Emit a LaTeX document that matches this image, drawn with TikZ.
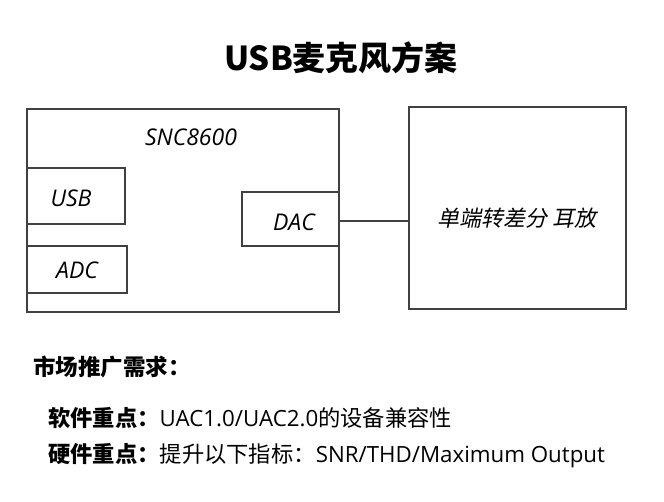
\documentclass[tikz,border=0pt]{standalone}
\usepackage{fontspec}
\setmainfont{Open Sans}
\newfontfamily\cjk{Noto Sans CJK SC}
\newfontfamily\slfont[FakeSlant=0.2]{Noto Sans CJK SC}
\tikzset{
  blk/.style={draw=black!75, line width=1.1pt, inner sep=0pt},
  lbl/.style={font=\itshape\fontsize{23}{23}\selectfont, inner sep=0pt},
  txt/.style={anchor=west, inner sep=0pt, font=\fontsize{22.3}{22}\selectfont}
}
\begin{document}
\begin{tikzpicture}[x=1pt,y=-1pt]
\useasboundingbox (0,0) rectangle (664,501);

\node [font=\cjk\bfseries\fontsize{33}{33}\selectfont] (title) at (341,58) {USB麦克风方案};

% chip and its blocks
\node [blk, minimum width=312pt, minimum height=203pt] (snc) at (183,210.5) {};
\node [lbl] (snct) at (191,137) {SNC8600};
\node [blk, minimum width=98pt, minimum height=56pt] (usb) at (76,196) {};
\node [lbl] at (71,198) {USB};
\node [blk, minimum width=100pt, minimum height=47pt] (adc) at (77,269.5) {};
\node [lbl] at (77,270) {ADC};
\node [blk, minimum width=97pt, minimum height=54pt] (dac) at (290.5,219) {};
\node [lbl] at (294,222) {DAC};

% headphone amp
\node [blk, minimum width=217pt, minimum height=202pt] (amp) at (517.5,208) {};
\node [lbl, font=\slfont\fontsize{22}{22}\selectfont] at (517,218) {单端转差分 耳放};

\draw [draw=black!75, line width=1.1pt] ([yshift=-2pt]dac.east) -- ([yshift=-2pt]dac.east -| amp.west);

% requirements
\node [txt, font=\cjk\bfseries\fontsize{22.5}{22}\selectfont] (req) at (33,367) {市场推广需求：};
\node [txt] (sw) at (48,418) {{\cjk\bfseries 软件重点：}UAC1.0/UAC2.0{\cjk 的设备兼容性}};
\node [txt] (hw) at (48,456) {{\cjk\bfseries 硬件重点：}{\cjk 提升以下指标：}SNR/THD/Maximum Output};

\end{tikzpicture}
\end{document}
